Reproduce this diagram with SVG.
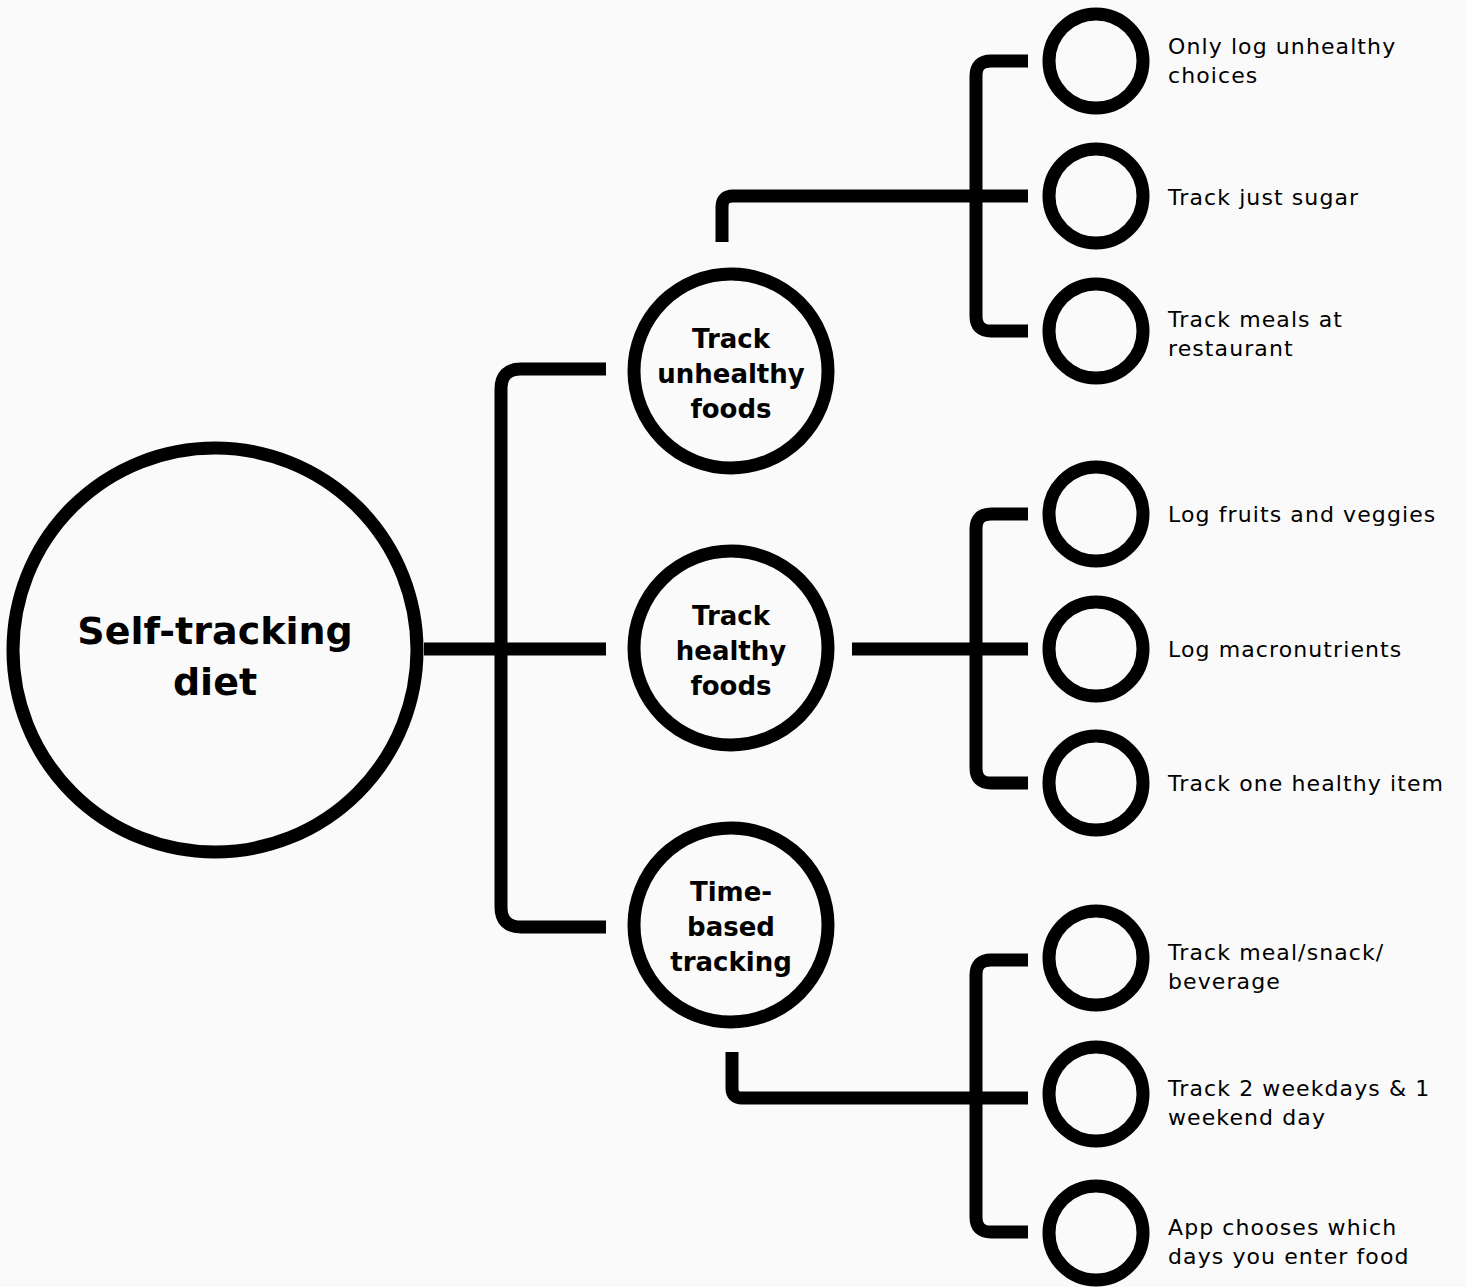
<svg xmlns="http://www.w3.org/2000/svg" width="1466" height="1287" viewBox="0 0 1466 1287">
  <style>
    .ring { fill: none; stroke: #000; stroke-width: 13; }
    .link { fill: none; stroke: #000; stroke-width: 13; stroke-linejoin: round; }
    .root { font-family: "DejaVu Sans", "Liberation Sans", sans-serif; font-weight: 700; font-size: 38px; fill: #000; text-anchor: middle; }
    .mid { font-family: "DejaVu Sans", "Liberation Sans", sans-serif; font-weight: 700; font-size: 26px; fill: #000; text-anchor: middle; }
    .leaf { font-family: "DejaVu Sans", "Liberation Sans", sans-serif; font-size: 22px; letter-spacing: 1.1px; fill: #000; }
  </style>
  <rect width="1466" height="1287" fill="#fafafa"/>

  <g id="connectors">
    <!-- root to its three branches -->
    <path class="link" d="M424 649 H606"/>
    <path class="link" d="M606 369 H521 Q501 369 501 389 V907 Q501 927 521 927 H606"/>
    <!-- unhealthy branch -->
    <path class="link" d="M722 242 V207 Q722 196 733 196 H1028"/>
    <path class="link" d="M1028 61 H991 Q976 61 976 76 V316 Q976 331 991 331 H1028"/>
    <!-- healthy branch -->
    <path class="link" d="M852 649 H1028"/>
    <path class="link" d="M1028 514 H991 Q976 514 976 529 V768 Q976 783 991 783 H1028"/>
    <!-- time-based branch -->
    <path class="link" d="M732 1052 V1088 Q732 1098 742 1098 H1028"/>
    <path class="link" d="M1028 960 H991 Q976 960 976 975 V1217 Q976 1232 991 1232 H1028"/>
  </g>

  <g id="root">
    <circle class="ring" cx="215" cy="650" r="202"/>
    <text class="root" x="215" y="644">Self-tracking</text>
    <text class="root" x="215" y="695">diet</text>
  </g>

  <g id="unhealthy">
    <circle class="ring" cx="731" cy="371" r="97"/>
    <text class="mid" x="731" y="348">Track</text>
    <text class="mid" x="731" y="383">unhealthy</text>
    <text class="mid" x="731" y="418">foods</text>
  </g>
  <g id="healthy">
    <circle class="ring" cx="731" cy="648" r="97"/>
    <text class="mid" x="731" y="625">Track</text>
    <text class="mid" x="731" y="660">healthy</text>
    <text class="mid" x="731" y="695">foods</text>
  </g>
  <g id="timebased">
    <circle class="ring" cx="731" cy="925" r="97"/>
    <text class="mid" x="731" y="901">Time-</text>
    <text class="mid" x="731" y="936">based</text>
    <text class="mid" x="731" y="971">tracking</text>
  </g>

  <g id="leaf-only-log">
    <circle class="ring" cx="1096" cy="61" r="47"/>
    <text class="leaf" x="1168" y="54">Only log unhealthy</text>
    <text class="leaf" x="1168" y="83">choices</text>
  </g>
  <g id="leaf-sugar">
    <circle class="ring" cx="1096" cy="196" r="47"/>
    <text class="leaf" x="1168" y="205">Track just sugar</text>
  </g>
  <g id="leaf-restaurant">
    <circle class="ring" cx="1096" cy="331" r="47"/>
    <text class="leaf" x="1168" y="327">Track meals at</text>
    <text class="leaf" x="1168" y="356">restaurant</text>
  </g>
  <g id="leaf-fruits">
    <circle class="ring" cx="1096" cy="514" r="47"/>
    <text class="leaf" x="1168" y="522">Log fruits and veggies</text>
  </g>
  <g id="leaf-macros">
    <circle class="ring" cx="1096" cy="649" r="47"/>
    <text class="leaf" x="1168" y="657">Log macronutrients</text>
  </g>
  <g id="leaf-one-item">
    <circle class="ring" cx="1096" cy="783" r="47"/>
    <text class="leaf" x="1168" y="791">Track one healthy item</text>
  </g>
  <g id="leaf-meal">
    <circle class="ring" cx="1096" cy="958" r="47"/>
    <text class="leaf" x="1168" y="960">Track meal/snack/</text>
    <text class="leaf" x="1168" y="989">beverage</text>
  </g>
  <g id="leaf-weekdays">
    <circle class="ring" cx="1096" cy="1094" r="47"/>
    <text class="leaf" x="1168" y="1096">Track 2 weekdays &amp; 1</text>
    <text class="leaf" x="1168" y="1125">weekend day</text>
  </g>
  <g id="leaf-app">
    <circle class="ring" cx="1096" cy="1233" r="47"/>
    <text class="leaf" x="1168" y="1235">App chooses which</text>
    <text class="leaf" x="1168" y="1264">days you enter food</text>
  </g>
</svg>
